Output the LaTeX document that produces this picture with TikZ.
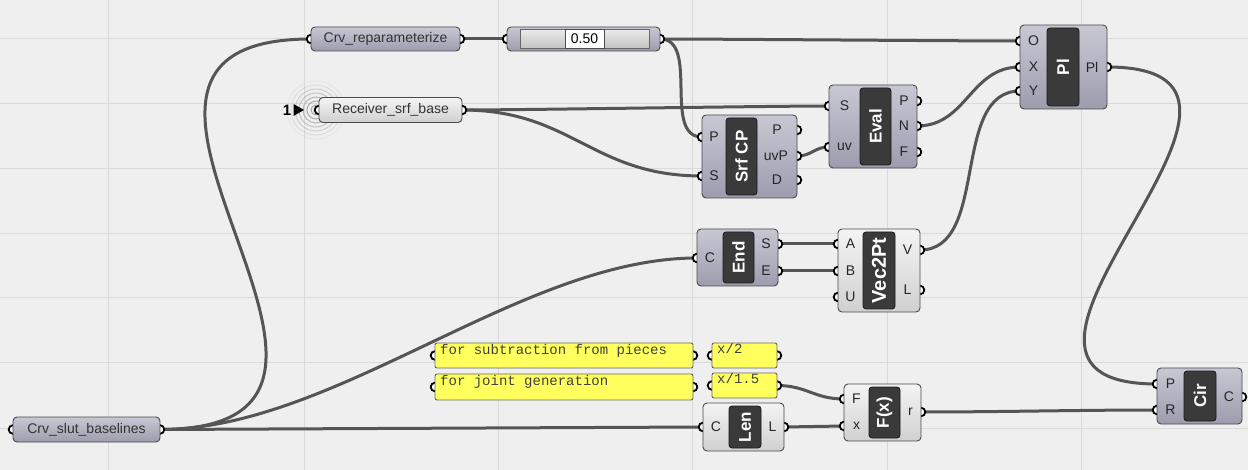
\documentclass[tikz,border=0pt]{standalone}
\usepackage{fontspec}
\setmainfont{Liberation Sans}
\newfontfamily\monof{Liberation Mono}
\definecolor{bg}{HTML}{EFEFEF}
\definecolor{gridc}{HTML}{DADADA}
\definecolor{wirec}{HTML}{555555}
\definecolor{bodyT}{HTML}{C8C8D4}
\definecolor{bodyB}{HTML}{9C9CAE}
\definecolor{liteT}{HTML}{F4F4F4}
\definecolor{liteB}{HTML}{D0D0D0}
\definecolor{edgec}{HTML}{4A4A4A}
\definecolor{innerc}{HTML}{3A3A3A}
\definecolor{panelc}{HTML}{FFFF5E}
\definecolor{ringc}{HTML}{A0A0A0}
\newcommand{\ghbox}[9]{%
  \path[#9] (#2,#3) rectangle (#4,#5);
  \path[innerbox] (#6,#3+3) rectangle (#7,#5-3);
  \node[lbl] (#1) at ({(#6+#7)/2},{(#3+#5)/2}) {#8};}
\begin{document}
\begin{tikzpicture}[x=1pt,y=-1pt,
  wire/.style={draw=wirec, line width=3pt},
  bluebody/.style={draw=edgec, line width=0.9pt, top color=bodyT, bottom color=bodyB, rounded corners=4pt},
  litebody/.style={draw=edgec, line width=0.9pt, top color=liteT, bottom color=liteB, rounded corners=4pt},
  innerbox/.style={draw=black!90, line width=0.8pt, fill=innerc, rounded corners=3pt},
  lbl/.style={text=white, font=\bfseries\fontsize{17}{17}\selectfont, rotate=90, inner sep=0pt},
  plbl/.style={text=black!85, font=\fontsize{14}{14}\selectfont, inner sep=0pt},
  namelbl/.style={text=black!80, font=\fontsize{14}{14}\selectfont, inner sep=0pt},
  port/.style={draw=black, fill=white, line width=1.8pt},
  panel/.style={draw=black!60, line width=0.9pt, fill=panelc, rounded corners=2pt, inner sep=0pt},
  paneltxt/.style={text=black!75, font=\monof\fontsize{14}{14}\selectfont, inner sep=0pt, anchor=base west},
  gridline/.style={draw=gridc, line width=1pt}
]
\useasboundingbox (0,0) rectangle (1248,470);
\fill[bg] (0,0) rectangle (1248,470);
% grid
\foreach \gx in {108.5,304,498,692.5,887,1081} \draw[gridline] (\gx,0) -- (\gx,470);
\foreach \gy in {39,104,169,233.5,298,363,428} \draw[gridline] (0,\gy) -- (1248,\gy);

% ports: inputs
\coordinate (rep-in) at (311,39);
\coordinate (sld-in) at (507,39);
\coordinate (rcv-in) at (319,110);
\coordinate (scp-P) at (702,137);
\coordinate (scp-S) at (702,176);
\coordinate (evl-S) at (829,106);
\coordinate (evl-uv) at (829,147);
\coordinate (pl-O) at (1020,41);
\coordinate (pl-X) at (1020,67);
\coordinate (pl-Y) at (1020,91);
\coordinate (end-C) at (697,258);
\coordinate (v2p-A) at (838,244);
\coordinate (v2p-B) at (838,271);
\coordinate (v2p-U) at (838,297);
\coordinate (p1-in) at (435,355.5);
\coordinate (p2-in) at (435,387);
\coordinate (x2-in) at (712,355.5);
\coordinate (x15-in) at (712,385.5);
\coordinate (len-C) at (703,427);
\coordinate (fx-F) at (844,399);
\coordinate (fx-x) at (844,426);
\coordinate (cir-P) at (1157,384);
\coordinate (cir-R) at (1157,410);
\coordinate (bas-in) at (13,429.5);
% ports: outputs
\coordinate (rep-out) at (460,39);
\coordinate (sld-out) at (660,39);
\coordinate (rcv-out) at (462,110);
\coordinate (scp-oP) at (797,130);
\coordinate (scp-uvP) at (797,156);
\coordinate (scp-D) at (797,180);
\coordinate (evl-P) at (917,101);
\coordinate (evl-N) at (917,126);
\coordinate (evl-F) at (917,152);
\coordinate (pl-out) at (1107,67);
\coordinate (end-S) at (778,244);
\coordinate (end-E) at (778,271);
\coordinate (v2p-V) at (920,250);
\coordinate (v2p-L) at (920,290);
\coordinate (p1-out) at (693,355.5);
\coordinate (p2-out) at (693,387);
\coordinate (x2-out) at (777,355.5);
\coordinate (x15-out) at (777,385.5);
\coordinate (len-L) at (784,427);
\coordinate (fx-r) at (921,412);
\coordinate (cir-C) at (1242,397);
\coordinate (bas-out) at (160,429.5);
\coordinate (rcv-ring) at (316,110);

% wires
\draw[wire] (bas-out) .. controls +(290,0) and +(-290,0) .. (rep-in);
\draw[wire] (bas-out) .. controls +(176,0) and +(-176,0) .. (end-C);
\draw[wire] (bas-out) -- (len-C);
\draw[wire] (rep-out) -- (sld-in);
\draw[wire] (sld-out) .. controls +(60,0) and +(-60,0) .. (pl-O);
\draw[wire] (sld-out) .. controls +(40,0) and +(-40,0) .. (scp-P);
\draw[wire] (rcv-out) .. controls +(60,0) and +(-60,0) .. (evl-S);
\draw[wire] (rcv-out) .. controls +(110,0) and +(-110,0) .. (scp-S);
\draw[wire] (scp-uvP) .. controls +(15,0) and +(-15,0) .. (evl-uv);
\draw[wire] (evl-N) .. controls +(50,0) and +(-50,0) .. (pl-X);
\draw[wire] (v2p-V) .. controls +(70,0) and +(-70,0) .. (pl-Y);
\draw[wire] (end-S) -- (v2p-A);
\draw[wire] (end-E) -- (v2p-B);
\draw[wire] (pl-out) .. controls +(230,0) and +(-230,0) .. (cir-P);
\draw[wire] (x15-out) .. controls +(30,0) and +(-30,0) .. (fx-F);
\draw[wire] (len-L) -- (fx-x);
\draw[wire] (fx-r) .. controls +(80,0) and +(-80,0) .. (cir-R);

% receiver rings
\foreach \r/\op in {5/0.9,9/0.85,13/0.7,17/0.55,21/0.4,25/0.25,29/0.12}
  \draw[ringc, line width=1pt, opacity=\op] (rcv-ring) circle[radius=\r pt];

% port circles
\foreach \p in {rep-in,sld-in,rcv-in,scp-P,scp-S,evl-S,evl-uv,pl-O,pl-X,pl-Y,end-C,v2p-A,v2p-B,v2p-U,p1-in,p2-in,x2-in,x15-in,len-C,fx-F,fx-x,cir-P,cir-R,bas-in,rep-out,sld-out,rcv-out,scp-oP,scp-uvP,scp-D,evl-P,evl-N,evl-F,pl-out,end-S,end-E,v2p-V,v2p-L,p1-out,p2-out,x2-out,x15-out,len-L,fx-r,cir-C,bas-out}
  \path[port] (\p) circle[radius=4.3pt];

% parameter boxes
\node[bluebody, namelbl, minimum width=149pt, minimum height=24pt] (rep) at (385.5,39) {Crv\_reparameterize};
\node[bluebody, namelbl, minimum width=147pt, minimum height=25pt] (bas) at (86.5,429.5) {Crv\_slut\_baselines};
\node[litebody, namelbl, minimum width=143pt, minimum height=25pt] (rcv) at (390.5,110) {Receiver\_srf\_base};
\node[font=\bfseries\fontsize{15}{15}\selectfont, inner sep=0pt] (rcvtag) at (287,110) {1};
\fill[black] (293.5,104) -- (304,110) -- (293.5,116) -- cycle;

% slider
\node[bluebody, minimum width=153pt, minimum height=24pt] (sld) at (583.5,39) {};
\path[draw=black!60, line width=0.8pt, top color=black!8, bottom color=black!24] (520,29.5) rectangle (649,48.5);
\node[draw=black!70, fill=white, minimum width=39pt, minimum height=19pt, inner sep=0pt, font=\fontsize{14}{14}\selectfont] (sldval) at (584.5,39) {0.50};

% components
\ghbox{scp}{702}{115}{797}{198}{726}{757}{Srf CP}{bluebody}
\node[plbl] (scp-tP) at (714,137) {P};
\node[plbl] (scp-tS) at (714,176) {S};
\node[plbl] (scp-toP) at (777,130) {P};
\node[plbl] (scp-tuvP) at (776,156) {uvP};
\node[plbl] (scp-tD) at (777,180) {D};

\ghbox{evl}{829}{85}{917}{168}{860}{891}{Eval}{bluebody}
\node[plbl] (evl-tS) at (844.5,106) {S};
\node[plbl] (evl-tuv) at (844.5,147) {uv};
\node[plbl] (evl-tP) at (904,101) {P};
\node[plbl] (evl-tN) at (904,126) {N};
\node[plbl] (evl-tF) at (904,152) {F};

\ghbox{pln}{1020}{25}{1107}{109}{1047}{1079}{Pl}{bluebody}
\node[plbl] (pl-tO) at (1033.5,41) {O};
\node[plbl] (pl-tX) at (1033.5,67) {X};
\node[plbl] (pl-tY) at (1033.5,91) {Y};
\node[plbl] (pl-tout) at (1092,67) {Pl};

\ghbox{endn}{697}{229}{778}{286}{723}{754}{End}{bluebody}
\node[plbl] (end-tC) at (710,258) {C};
\node[plbl] (end-tS) at (766,244) {S};
\node[plbl] (end-tE) at (766,271) {E};

\ghbox{v2p}{838}{229}{920}{312}{863}{895}{\fontsize{20}{20}\selectfont Vec2Pt}{litebody}
\node[plbl] (v2p-tA) at (850.5,244) {A};
\node[plbl] (v2p-tB) at (850.5,271) {B};
\node[plbl] (v2p-tU) at (850.5,297) {U};
\node[plbl] (v2p-tV) at (907.5,250) {V};
\node[plbl] (v2p-tL) at (907.5,290) {L};

\ghbox{lenn}{703}{403}{784}{451}{729}{761}{Len}{litebody}
\node[plbl] (len-tC) at (716,427) {C};
\node[plbl] (len-tL) at (772.5,427) {L};

\ghbox{fxn}{844}{384}{921}{441}{869}{900}{F(x)}{litebody}
\node[plbl] (fx-tF) at (856.5,399) {F};
\node[plbl] (fx-tx) at (856.5,426) {x};
\node[plbl] (fx-tr) at (910.5,412) {r};

\ghbox{cirn}{1157}{368}{1242}{424}{1184}{1216}{Cir}{bluebody}
\node[plbl] (cir-tP) at (1170.5,384) {P};
\node[plbl] (cir-tR) at (1170.5,410) {R};
\node[plbl] (cir-tC) at (1229,397) {C};

% panels
\node[panel, minimum width=258pt, minimum height=25pt] (p1) at (564,355.5) {};
\node[paneltxt] (p1t) at (440,354.5) {for subtraction from pieces};
\node[panel, minimum width=258pt, minimum height=26pt] (p2) at (564,387) {};
\node[paneltxt] (p2t) at (440,385) {for joint generation};
\node[panel, minimum width=65pt, minimum height=25pt] (x2) at (744.5,355.5) {};
\node[paneltxt] (x2t) at (717,353) {x/2};
\node[panel, minimum width=65pt, minimum height=25pt] (x15) at (744.5,385.5) {};
\node[paneltxt] (x15t) at (717,383) {x/1.5};
\end{tikzpicture}
\end{document}
